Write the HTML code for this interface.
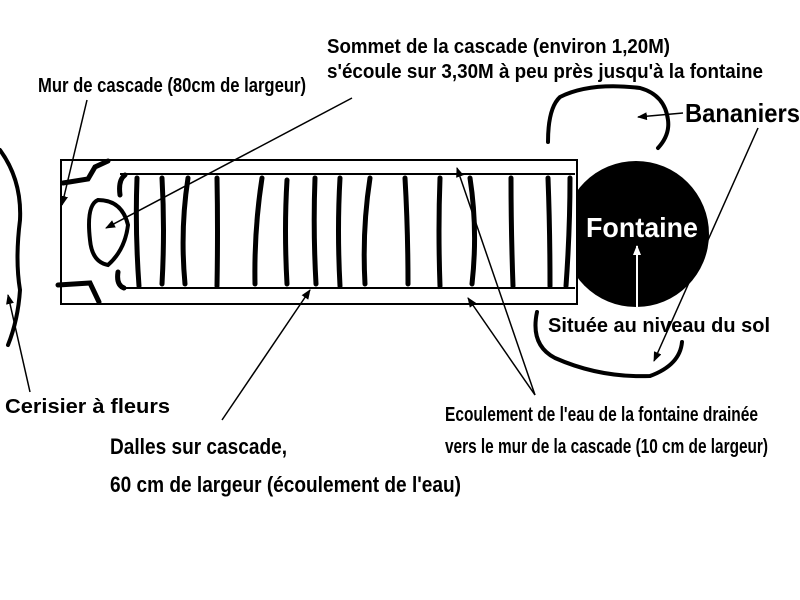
<!DOCTYPE html>
<html><head><meta charset="utf-8"><style>body{margin:0;background:#fff}svg{display:block}text{font-family:"Liberation Sans",sans-serif;font-weight:bold}</style></head><body>
<svg width="800" height="600" viewBox="0 0 800 600" xmlns="http://www.w3.org/2000/svg">
<defs><marker id="a" markerWidth="10" markerHeight="8" refX="9" refY="4" orient="auto" markerUnits="userSpaceOnUse"><path d="M0,0L10,4L0,8z" fill="#000"/></marker>
<marker id="w" markerWidth="10" markerHeight="8" refX="9" refY="4" orient="auto" markerUnits="userSpaceOnUse"><path d="M0,0L10,4L0,8z" fill="#fff"/></marker></defs>
<circle cx="636" cy="234" r="73" fill="#000"/>
<rect x="61" y="160" width="516" height="144" fill="#fff" stroke="#000" stroke-width="2"/>
<path d="M120,174H575M120,288H575" stroke="#000" stroke-width="2"/>
<g stroke="#000" stroke-width="5" fill="none" stroke-linecap="round">
<path d="M137,178Q135,230 139,286M162,178Q165,230 162,284M188,178Q180,230 185,284M217,178Q218,230 217,286M262,178Q254,230 255,284M287,180Q284,230 287,284M315,178Q313,230 316,284M340,178Q337,230 340,286M370,178Q362,230 365,284M405,178Q408,230 408,284M440,178Q438,230 440,286M470,178Q478,230 472,284M511,178Q511,230 513,286M548,178Q550,230 550,286M570,178Q570,230 566,286"/>
<path d="M125,175Q118,180 120,195M118,272Q116,285 124,288"/>
<path d="M63,183L88,179L95,167L108,161M58,285L90,283L99,302"/>
<path d="M98,200Q86,205 90,240Q92,262 108,265Q125,250 128,225Q122,200 98,200Z" stroke-width="4"/>
<path d="M0,150Q22,180 20,220Q15,260 20,290Q18,320 8,345" stroke-width="4"/>
<path d="M548,142Q548,108 560,97Q590,82 640,88Q665,95 668,120Q670,135 658,148" stroke-width="4"/>
<path d="M537,312Q530,345 555,358Q600,378 650,376Q680,365 682,342" stroke-width="4"/>
</g>
<g stroke="#000" stroke-width="1.5" marker-end="url(#a)">
<line x1="87" y1="100" x2="62" y2="205"/>
<line x1="352" y1="98" x2="106" y2="228"/>
<line x1="222" y1="420" x2="310" y2="290"/>
<line x1="535" y1="395" x2="457" y2="168"/>
<line x1="535" y1="395" x2="468" y2="298"/>
<line x1="683" y1="113" x2="638" y2="117"/>
<line x1="758" y1="128" x2="654" y2="361"/>
<line x1="30" y1="392" x2="8" y2="295"/>
</g>
<line x1="637" y1="310" x2="637" y2="246" stroke="#fff" stroke-width="2" marker-end="url(#w)"/>
<g font-size="20" lengthAdjust="spacingAndGlyphs">
<text x="327" y="53" textLength="343" lengthAdjust="spacingAndGlyphs">Sommet de la cascade (environ 1,20M)</text>
<text x="327" y="78" textLength="436" lengthAdjust="spacingAndGlyphs">s'écoule sur 3,30M à peu près jusqu'à la fontaine</text>
<text x="38" y="92" textLength="268" lengthAdjust="spacingAndGlyphs">Mur de cascade (80cm de largeur)</text>
<text x="548" y="332" textLength="222" lengthAdjust="spacingAndGlyphs">Située au niveau du sol</text>
<text x="5" y="413" textLength="165" lengthAdjust="spacingAndGlyphs">Cerisier à fleurs</text>
<text x="445" y="421" textLength="313" lengthAdjust="spacingAndGlyphs">Ecoulement de l'eau de la fontaine drainée</text>
<text x="445" y="453" textLength="323" lengthAdjust="spacingAndGlyphs">vers le mur de la cascade (10 cm de largeur)</text>
</g>
<text x="685" y="122" font-size="26" textLength="115" lengthAdjust="spacingAndGlyphs">Bananiers</text>
<text x="586" y="237" font-size="28" fill="#fff" textLength="112" lengthAdjust="spacingAndGlyphs">Fontaine</text>
<text x="110" y="454" font-size="22" textLength="177" lengthAdjust="spacingAndGlyphs">Dalles sur cascade,</text>
<text x="110" y="492" font-size="22" textLength="351" lengthAdjust="spacingAndGlyphs">60 cm de largeur (écoulement de l'eau)</text>
</svg>
</body></html>
